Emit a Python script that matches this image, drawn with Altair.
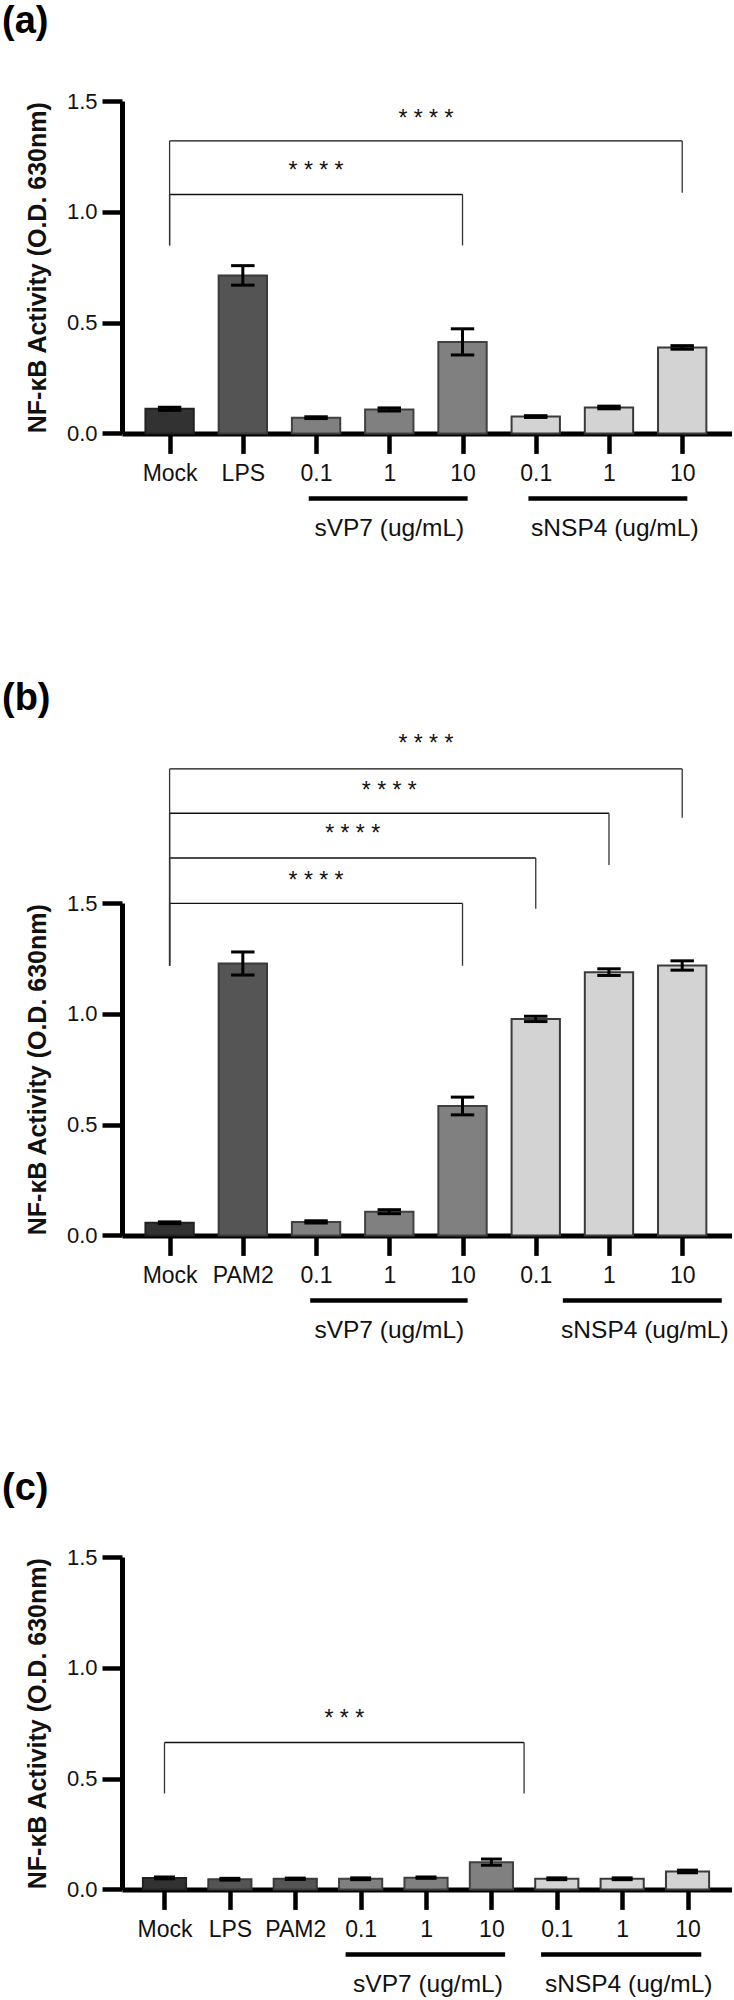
import altair as alt
import pandas as pd

FONT = "Arial, Liberation Sans, Helvetica, sans-serif"
AXIS_TITLE = "NF-κB Activity (O.D. 630nm)"
PLOT_W = 610
PLOT_H = 332.4

# ---------------- Panel (a) ----------------
a_labels = ["Mock", "LPS", "0.1", "1", "10", "0.1", "1", "10"]
a_groups = ["Mock", "LPS", "sVP7", "sVP7", "sVP7", "sNSP4", "sNSP4", "sNSP4"]
a_means = [0.111, 0.713, 0.071, 0.108, 0.413, 0.076, 0.117, 0.388]
a_errs = [0.007, 0.044, 0.004, 0.007, 0.059, 0.004, 0.006, 0.008]
a_brk_start = [0, 0]
a_brk_end = [7, 4]
a_brk_top = [1.320, 1.078]
a_brk_left_low = [0.848, 0.848]
a_brk_right_low = [1.086, 0.848]
a_star_y = [1.42, 1.183]
a_star_text = ["* * * *", "* * * *"]
a_grp_names = ["sVP7 (ug/mL)", "sNSP4 (ug/mL)"]
a_grp_from = [1.90, 4.90]
a_grp_to = [4.07, 7.07]
a_grp_center = [3.0, 6.08]

# ---------------- Panel (b) ----------------
b_labels = ["Mock", "PAM2", "0.1", "1", "10", "0.1", "1", "10"]
b_groups = ["Mock", "PAM2", "sVP7", "sVP7", "sVP7", "sNSP4", "sNSP4", "sNSP4"]
b_means = [0.057, 1.227, 0.061, 0.107, 0.584, 0.977, 1.188, 1.218]
b_errs = [0.004, 0.052, 0.005, 0.009, 0.040, 0.012, 0.015, 0.021]
b_brk_start = [0, 0, 0, 0]
b_brk_end = [7, 6, 5, 4]
b_brk_top = [2.105, 1.905, 1.703, 1.498]
b_brk_left_low = [1.217, 1.217, 1.217, 1.217]
b_brk_right_low = [1.885, 1.671, 1.474, 1.217]
b_star_y = [2.217, 2.005, 1.810, 1.600]
b_star_text = ["* * * *", "* * * *", "* * * *", "* * * *"]
b_grp_names = ["sVP7 (ug/mL)", "sNSP4 (ug/mL)"]
b_grp_from = [1.92, 5.37]
b_grp_to = [4.07, 7.54]
b_grp_center = [3.0, 6.49]

# ---------------- Panel (c) ----------------
c_labels = ["Mock", "LPS", "PAM2", "0.1", "1", "10", "0.1", "1", "10"]
c_groups = ["Mock", "LPS", "PAM2", "sVP7", "sVP7", "sVP7", "sNSP4", "sNSP4", "sNSP4"]
c_means = [0.052, 0.046, 0.048, 0.048, 0.053, 0.123, 0.048, 0.048, 0.081]
c_errs = [0.004, 0.004, 0.003, 0.004, 0.003, 0.014, 0.004, 0.004, 0.006]
c_brk_start = [0]
c_brk_end = [5.5]
c_brk_top = [0.663]
c_brk_left_low = [0.433]
c_brk_right_low = [0.433]
c_star_y = [0.767]
c_star_text = ["* * *"]
c_grp_names = ["sVP7 (ug/mL)", "sNSP4 (ug/mL)"]
c_grp_from = [2.77, 5.76]
c_grp_to = [5.21, 8.21]
c_grp_center = [4.03, 7.1]

# Colours per treatment group
grp_domain = ["Mock", "LPS", "PAM2", "sVP7", "sNSP4"]
grp_fill = ["#323232", "#545454", "#555555", "#808080", "#d3d3d3"]
grp_stroke = ["#222222", "#3a3a3a", "#3a3a3a", "#404040", "#3a3a3a"]


def panel(tag, tag_dy, labels, groups, means, errs,
          brk_start, brk_end, brk_top, brk_llow, brk_rlow, star_y, star_text,
          grp_names, grp_from, grp_to, grp_center):
    n = len(labels)
    xs = alt.Scale(domain=[-0.65, n - 0.32], nice=False, zero=False)
    ys = alt.Scale(domain=[0, 1.5], nice=False, zero=True)
    label_expr = "[" + ",".join("'%s'" % l for l in labels) + "][datum.value]"

    df = pd.DataFrame({"idx": list(range(n)), "label": labels, "group": groups,
                       "mean": means, "err": errs})
    base = alt.Chart(df)

    def X(f):
        return alt.X(f, scale=xs, title=None)

    def Y(f):
        return alt.Y(f, scale=ys, title=AXIS_TITLE)

    bars = base.transform_calculate(
        x0="datum.idx - 0.33", x1="datum.idx + 0.33"
    ).mark_bar(strokeWidth=2).encode(
        x=alt.X("x0:Q", scale=xs, title=None, axis=alt.Axis(
            values=list(range(n)), labelExpr=label_expr, grid=False,
            labelFontSize=23, labelPadding=9, tickSize=20, tickWidth=4.5,
            domainWidth=5, labelFlush=False, labelOverlap=False)),
        x2="x1:Q",
        y=alt.Y("mean:Q", scale=ys, title=AXIS_TITLE, axis=alt.Axis(
            values=[0, 0.5, 1.0, 1.5], format=".1f", grid=False,
            labelFontSize=22, labelPadding=5, tickSize=20, tickWidth=4.5,
            domainWidth=5, titleFontSize=25, titleFontWeight="bold",
            titlePadding=16)),
        y2=alt.datum(0),
        fill=alt.Fill("group:N", scale=alt.Scale(domain=grp_domain, range=grp_fill), legend=None),
        stroke=alt.Stroke("group:N", scale=alt.Scale(domain=grp_domain, range=grp_stroke), legend=None),
    )

    err = base.transform_calculate(
        lo="datum.mean - datum.err", hi="datum.mean + datum.err",
        c0="datum.idx - 0.16", c1="datum.idx + 0.16")
    stem = err.mark_rule(strokeWidth=3, color="black").encode(
        x=X("idx:Q"), y=Y("lo:Q"), y2="hi:Q")
    cap_hi = err.mark_rule(strokeWidth=3, color="black").encode(
        x=X("c0:Q"), x2="c1:Q", y=Y("hi:Q"))
    cap_lo = err.mark_rule(strokeWidth=3, color="black").encode(
        x=X("c0:Q"), x2="c1:Q", y=Y("lo:Q"))

    bdf = pd.DataFrame({"start": brk_start, "end": brk_end, "top": brk_top,
                        "llow": brk_llow, "rlow": brk_rlow,
                        "sy": star_y, "stext": star_text})
    bb = alt.Chart(bdf)
    hbr = bb.mark_rule(strokeWidth=1.3, color="#111111").encode(
        x=X("start:Q"), x2="end:Q", y=Y("top:Q"))
    lleg = bb.mark_rule(strokeWidth=1.3, color="#333333").encode(
        x=X("start:Q"), y=Y("llow:Q"), y2="top:Q")
    rleg = bb.mark_rule(strokeWidth=1.3, color="#333333").encode(
        x=X("end:Q"), y=Y("rlow:Q"), y2="top:Q")
    stars = bb.transform_calculate(mid="(datum.start + datum.end) / 2").mark_text(
        fontSize=23, color="#111111", baseline="middle", align="center").encode(
        x=X("mid:Q"), y=Y("sy:Q"), text="stext:N")

    gdf = pd.DataFrame({"name": grp_names, "gfrom": grp_from, "gto": grp_to,
                        "gcenter": grp_center})
    gb = alt.Chart(gdf)
    uline = gb.mark_rule(strokeWidth=4.5, color="black").encode(
        x=X("gfrom:Q"), x2="gto:Q", y=alt.value(PLOT_H + 65))
    gtext = gb.mark_text(fontSize=24.5, color="#111111", baseline="middle", align="center").encode(
        x=X("gcenter:Q"), y=alt.value(PLOT_H + 96), text="name:N")

    tdf = pd.DataFrame({"tag": [tag]})
    tagtext = alt.Chart(tdf).mark_text(
        fontSize=38, fontWeight="bold", align="left", baseline="top", color="black").encode(
        x=alt.value(-120), y=alt.value(tag_dy), text="tag:N")

    return alt.layer(bars, stem, cap_hi, cap_lo, hbr, lleg, rleg, stars,
                     uline, gtext, tagtext).properties(width=PLOT_W, height=PLOT_H)


pa = panel("(a)", -98, a_labels, a_groups, a_means, a_errs,
           a_brk_start, a_brk_end, a_brk_top, a_brk_left_low, a_brk_right_low,
           a_star_y, a_star_text, a_grp_names, a_grp_from, a_grp_to, a_grp_center)
pb = panel("(b)", -223, b_labels, b_groups, b_means, b_errs,
           b_brk_start, b_brk_end, b_brk_top, b_brk_left_low, b_brk_right_low,
           b_star_y, b_star_text, b_grp_names, b_grp_from, b_grp_to, b_grp_center)
pc = panel("(c)", -87, c_labels, c_groups, c_means, c_errs,
           c_brk_start, c_brk_end, c_brk_top, c_brk_left_low, c_brk_right_low,
           c_star_y, c_star_text, c_grp_names, c_grp_from, c_grp_to, c_grp_center)

chart = alt.vconcat(pa, alt.vconcat(pb, pc, spacing=127), spacing=139).properties(
    padding={"left": 2, "top": 3, "right": 0, "bottom": 0},
    background="white",
).configure(font=FONT).configure_view(stroke=None).configure_axis(
    domainColor="black", tickColor="black", labelColor="#111111",
    titleColor="#111111", labelFont=FONT, titleFont=FONT)

chart.save("out.html", embed_options={"renderer": "svg", "actions": False})
